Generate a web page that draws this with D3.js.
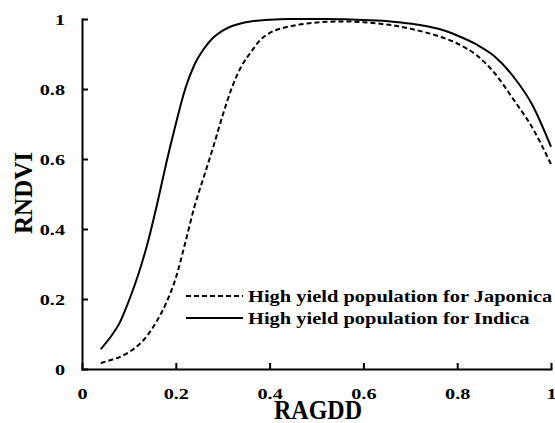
<!DOCTYPE html>
<html lang="en">
<head>
<meta charset="utf-8" />
<title>RNDVI vs RAGDD</title>
<style>
  body{margin:0;background:#fff;}
  svg{display:block;}
  svg text{font-family:"Liberation Serif","Times New Roman",serif;font-weight:bold;fill:#000;}
  .axis path,.axis line{stroke:#000;stroke-width:2;}
  .curve{fill:none;stroke:#000;stroke-width:2;}
</style>
<script src="https://cdn.jsdelivr.net/npm/d3@7.9.0/dist/d3.min.js"></script>
</head>
<body>
<svg id="chart" width="555" height="423"></svg>
<script>
/* ───────── DATA ───────── */
const ragdd    = [0.04,0.06,0.08,0.10,0.12,0.14,0.16,0.18,0.20,0.22,0.24,0.26,0.28,0.30,0.32,0.34,0.36,0.38,0.40,
                  0.44,0.48,0.52,0.56,0.60,0.64,0.68,0.72,0.76,0.80,0.84,0.88,0.92,0.96,1.00];
const indica   = [0.057,0.09,0.131,0.195,0.27,0.36,0.47,0.59,0.70,0.80,0.87,0.915,0.947,0.967,0.980,0.988,0.993,0.996,0.998,
                  1.0,1.0,1.0,0.999,0.997,0.995,0.99,0.983,0.972,0.953,0.928,0.893,0.835,0.755,0.635];
const japonica = [0.017,0.025,0.034,0.048,0.068,0.097,0.138,0.19,0.26,0.36,0.465,0.55,0.635,0.725,0.805,0.865,0.905,0.94,0.96,
                  0.978,0.987,0.992,0.993,0.991,0.986,0.978,0.966,0.951,0.93,0.898,0.845,0.77,0.69,0.585];
const xTicks = [0,0.2,0.4,0.6,0.8,1];
const yTicks = [0,0.2,0.4,0.6,0.8,1];
const seriesNames = ['High yield population for Japonica','High yield population for Indica'];

/* ───────── LAYOUT ───────── */
const svg = d3.select('#chart');
const x = d3.scaleLinear([0,1],[82,551]);
const y = d3.scaleLinear([0,1],[369,19]);
const fmt = d => d===0||d===1 ? String(d) : d.toFixed(1);

/* axes (ticks point inward) */
const gx = svg.append('g').attr('class','axis').attr('transform',`translate(0,${y(0)})`)
  .call(d3.axisBottom(x).tickValues(xTicks).tickSizeInner(-6).tickSizeOuter(0).tickFormat(fmt));
gx.selectAll('text')
  .attr('y',0).attr('dy',0)
  .style('font-size','15px')
  .attr('transform','translate(0,30) scale(1.35,1)');

const gy = svg.append('g').attr('class','axis').attr('transform',`translate(${x(0)},0)`)
  .call(d3.axisLeft(y).tickValues(yTicks).tickSizeInner(-6).tickSizeOuter(0).tickFormat(fmt));
gy.selectAll('text')
  .attr('x',0).attr('dy','0.34em')
  .style('font-size','15px')
  .attr('transform','translate(-17,0) scale(1.35,1)');
svg.selectAll('.axis .domain').attr('stroke-linecap','square');

/* axis titles */
svg.append('text').attr('text-anchor','middle').style('font-size','24px')
  .attr('transform','translate(318,419) scale(1,1.15)').text('RAGDD');
svg.append('text').attr('text-anchor','middle').style('font-size','25px')
  .attr('transform','translate(32,193) rotate(-90)').text('RNDVI');

/* curves */
const line = vals => d3.line().x((d,i)=>x(ragdd[i])).y(d=>y(d)).curve(d3.curveMonotoneX)(vals);
svg.append('path').attr('class','curve').attr('stroke-dasharray','5,3').attr('d',line(japonica));
svg.append('path').attr('class','curve').attr('d',line(indica));

/* legend */
const leg = svg.append('g');
[{name:seriesNames[0],dash:'5,3',y:296},{name:seriesNames[1],dash:null,y:318}].forEach(s=>{
  leg.append('line').attr('class','curve')
    .attr('x1',186).attr('x2',243).attr('y1',s.y).attr('y2',s.y)
    .attr('stroke-dasharray',s.dash);
  leg.append('text').style('font-size','16.5px')
    .attr('transform',`translate(248,${s.y+5.5}) scale(1.24,1)`).text(s.name);
});
</script>
</body>
</html>
